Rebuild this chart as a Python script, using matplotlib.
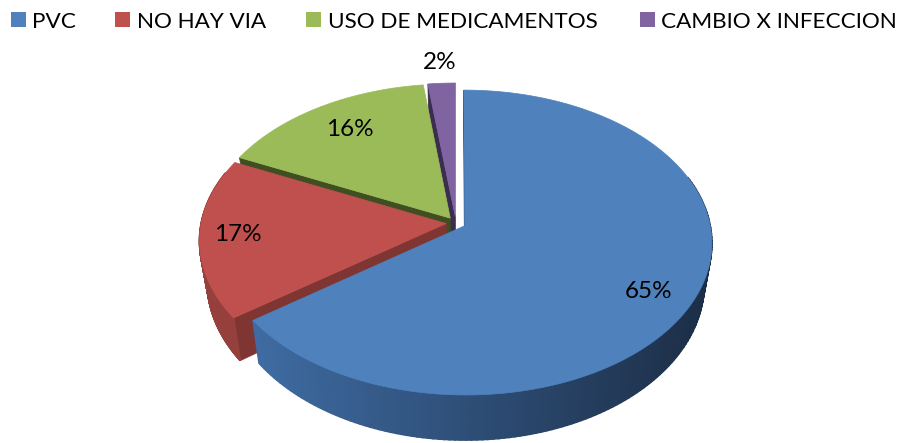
import numpy as np
import matplotlib
matplotlib.use('Agg')
import matplotlib.pyplot as plt
from matplotlib.patches import Rectangle

categories = ['PVC', 'NO HAY VIA', 'USO DE MEDICAMENTOS', 'CAMBIO X INFECCION']
values = [65, 17, 16, 2]
labels = ['65%', '17%', '16%', '2%']

top_colors = ['#4f81bd', '#c0504d', '#9bbb59', '#8064a2']
wall_colors = ['#2c4a70', '#7f3532', '#3f4f22', '#3a2d50']
rim_left = ['#3f6ca3', '#96403d', '#7d984a', '#67508a']
rim_right = ['#1c2e47', '#8a3835', '#5f7538', '#4e3d68']

# layout in pixels
cx, cy = 456, 223
rx, ry = 245, 150
persp = 0.11
depth = 40
shrink = 0.03  # bottom of the pie is a bit narrower than the top
explode = 0.04

legend_sq_x = [11, 115, 306, 640]
legend_txt_x = [32, 137, 328, 661]
label_xy = [(649, 291), (238, 234), (350, 129), (440, 62)]


def project(u, v, drop=0.0):
    s = 1 / (1 + persp * v)
    k = 1 - shrink * drop / depth
    return cx + rx * u * s * k, cy - ry * v * s + drop * s


fig = plt.figure(figsize=(9, 4.43), dpi=100)
ax = fig.add_axes([0, 0, 1, 1])
ax.set_xlim(0, 900)
ax.set_ylim(443, 0)
ax.axis('off')

plt.rcParams['font.family'] = ['Lato', 'DejaVu Sans']

# clockwise from 12 o'clock
ends = 90 - 3.6 * np.cumsum(values)
starts = np.concatenate([[90], ends[:-1]])

# back slices first, blue on top
for i in [3, 2, 1, 0]:
    a = np.radians(np.linspace(starts[i], ends[i], 200))
    mid = np.radians((starts[i] + ends[i]) / 2)
    ox, oy = explode * np.cos(mid), explode * np.sin(mid)
    u = ox + np.cos(a)
    v = oy + np.sin(a)

    # radial wall on the lower edge of the slice
    ex, ey = project(np.array([ox, u[0]]), np.array([oy, v[0]]))
    ex2, ey2 = project(np.array([ox, u[0]]), np.array([oy, v[0]]), depth)
    ax.fill(np.r_[ex, ex2[::-1]], np.r_[ey, ey2[::-1]],
            color=wall_colors[i], lw=0.5)

    # outer rim, shaded from left to right
    x1, y1 = project(u, v)
    x2, y2 = project(u, v, depth)
    t = (x1 - 250) / 460
    c1 = np.array(matplotlib.colors.to_rgb(rim_left[i]))
    c2 = np.array(matplotlib.colors.to_rgb(rim_right[i]))
    for j in range(len(a) - 1):
        if v[j] > 0.35 + oy:
            continue
        w = np.clip(t[j], 0, 1)
        ax.fill([x1[j], x1[j + 1], x2[j + 1], x2[j]],
                [y1[j], y1[j + 1], y2[j + 1], y2[j]],
                color=c1 * (1 - w) + c2 * w, lw=1.2)

    # top face
    ax.fill(np.r_[project(ox, oy)[0], x1], np.r_[project(ox, oy)[1], y1],
            color=top_colors[i], lw=0.5)

for i in range(4):
    ax.add_patch(Rectangle((legend_sq_x[i], 12), 15, 15, color=top_colors[i], lw=0))
    ax.text(legend_txt_x[i], 20, categories[i], fontsize=16.2, color='black',
            ha='left', va='center_baseline')
    ax.text(label_xy[i][0], label_xy[i][1], labels[i], fontsize=17.5, color='black',
            ha='center', va='center')

fig.savefig('out.png', dpi=100)
